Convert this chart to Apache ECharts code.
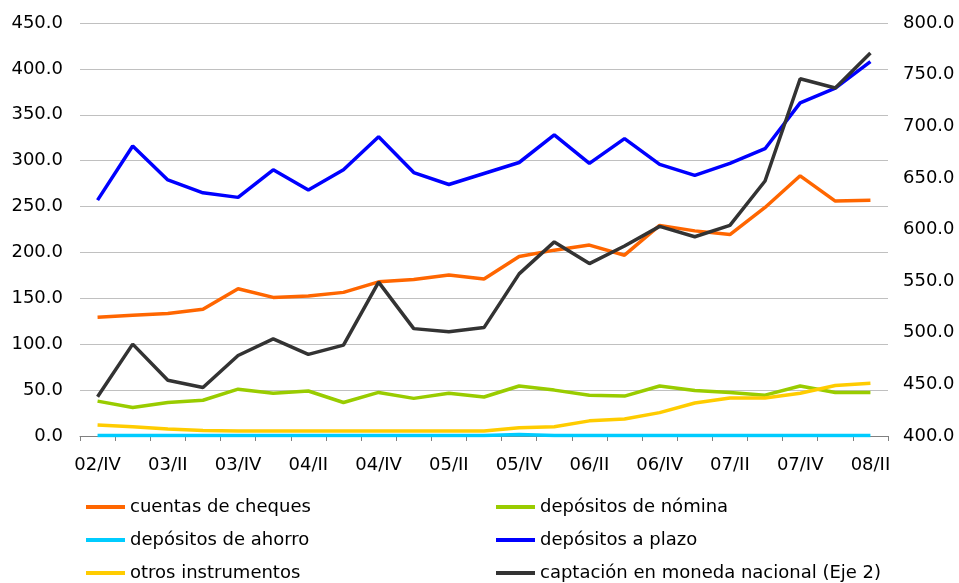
<!DOCTYPE html>
<html>
<head>
<meta charset="utf-8">
<script src="https://cdn.jsdelivr.net/npm/echarts@6/dist/echarts.min.js"></script>
<style>html,body{margin:0;padding:0;background:#fff}#c{width:959px;height:583px}</style>
</head>
<body>
<div id="c"></div>
<script>
const categories = ['02/IV','03/I','03/II','03/III','03/IV','04/I','04/II','04/III','04/IV','05/I','05/II','05/III','05/IV','06/I','06/II','06/III','06/IV','07/I','07/II','07/III','07/IV','08/I','08/II'];
const cheques = [129.5,131.5,133.5,138,160.5,151,152.5,156.5,168,170.5,175.5,171,195.5,202.5,208,197,229.5,223.5,219.5,249,283.5,256,257];
const nomina = [38,31,36.5,39,51,46.5,49,36.5,47.5,41,46.5,42.5,54.5,50,44.5,43.5,54.5,49.5,47.5,44.5,54.5,47.5,47.5];
const ahorro = [0.5,0.5,0.5,0.5,0.5,0.5,0.5,0.5,0.5,0.5,0.5,0.5,1.5,0.5,0.5,0.5,0.5,0.5,0.5,0.5,0.5,0.5,0.5];
const plazo = [257,316,279,265,260,290,268,290,326,287,274,286,298,328,297,324,296,284,297,313,363,379,408];
const otros = [12,10,7.5,6,5.5,5.5,5.5,5.5,5.5,5.5,5.5,5.5,9,10,16.5,18.5,25.5,36,41.5,41.5,46.5,55,57.5];
const captacion = [438,489,454,447,478,494,479,488,549,504,501,505,557,588,567,584,603,593,604,647,746,737,771];
const leftTicks = {min: 0, max: 450, interval: 50};
const rightTicks = {min: 400, max: 800, interval: 50};

const FONT = 'DejaVu Sans';
const txt = {fontFamily: FONT, fontSize: 18, color: '#000'};
function mk(name, data, color, axis) {
  return {name, type: 'line', data, yAxisIndex: axis || 0, symbol: 'none', smooth: false,
    lineStyle: {color, width: 3.5}, itemStyle: {color}, animation: false};
}
const chart = echarts.init(document.getElementById('c'));
chart.setOption({
  animation: false,
  textStyle: {fontFamily: FONT},
  grid: {left: 80, right: 71, top: 23, bottom: 147, containLabel: false},
  xAxis: {type: 'category', data: categories, boundaryGap: true,
    axisLine: {show: true, lineStyle: {color: '#808080', width: 1}},
    axisTick: {show: true, interval: 0, length: 5, lineStyle: {color: '#808080'}},
    axisLabel: Object.assign({interval: 1, margin: 20}, txt),
    splitLine: {show: false}},
  yAxis: [
    {type: 'value', min: leftTicks.min, max: leftTicks.max, interval: leftTicks.interval,
      axisLine: {show: false}, axisTick: {show: false},
      axisLabel: Object.assign({margin: 17, formatter: v => v.toFixed(1)}, txt),
      splitLine: {show: true, lineStyle: {color: '#c0c0c0', width: 1}}},
    {type: 'value', min: rightTicks.min, max: rightTicks.max, interval: rightTicks.interval, position: 'right',
      axisLine: {show: false}, axisTick: {show: false},
      axisLabel: Object.assign({margin: 15, formatter: v => v.toFixed(1)}, txt),
      splitLine: {show: false}}
  ],
  legend: [
    {data: ['cuentas de cheques','depósitos de ahorro','otros instrumentos'], orient: 'vertical',
      left: 86, top: 497, itemWidth: 39, itemHeight: 4, itemGap: 13, icon: 'rect',
      textStyle: Object.assign({lineHeight: 20, padding: [0,0,0,0]}, txt), padding: 0},
    {data: ['depósitos de nómina','depósitos a plazo','captación en moneda nacional (Eje 2)'], orient: 'vertical',
      left: 496, top: 497, itemWidth: 39, itemHeight: 4, itemGap: 13, icon: 'rect',
      textStyle: Object.assign({lineHeight: 20}, txt), padding: 0}
  ],
  series: [
    mk('cuentas de cheques', cheques, '#FF6600'),
    mk('depósitos de nómina', nomina, '#99CC00'),
    mk('otros instrumentos', otros, '#FFCC00'),
    mk('depósitos de ahorro', ahorro, '#00CCFF'),
    mk('depósitos a plazo', plazo, '#0000FF'),
    mk('captación en moneda nacional (Eje 2)', captacion, '#333333', 1)
  ]
});
</script>
</body>
</html>
